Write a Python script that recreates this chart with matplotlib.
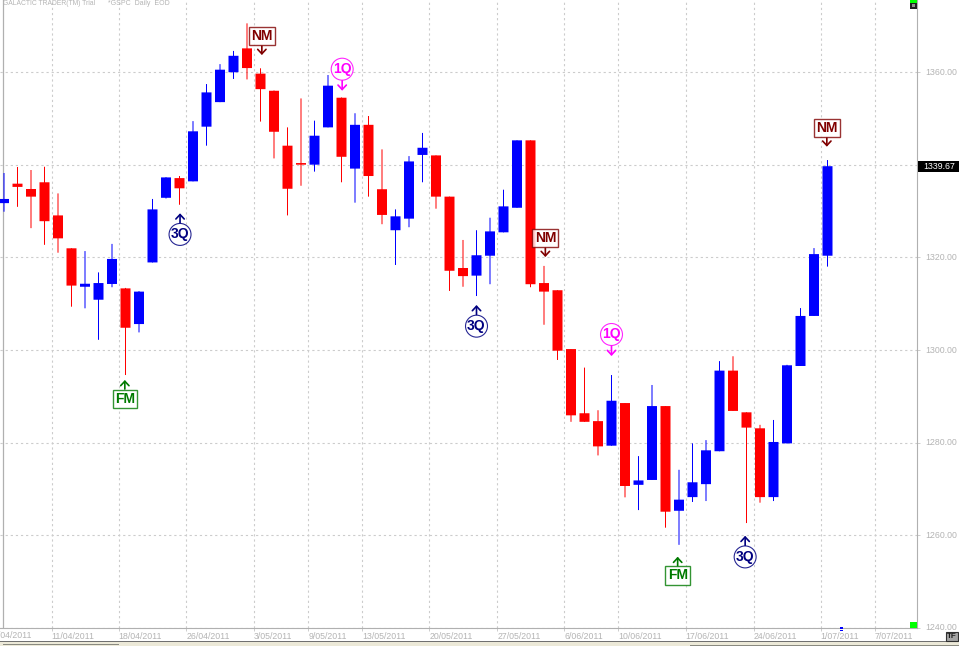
import matplotlib
matplotlib.use('Agg')
import matplotlib.pyplot as plt
from matplotlib.transforms import ScaledTranslation

plt.rcParams['font.family'] = ['Liberation Sans', 'DejaVu Sans']

# daily candles
opens = [1331.7, 1335.9, 1334.75, 1336.2, 1329.05, 1321.95, 1313.65, 1310.85, 1314.25, 1313.3,
         1305.6, 1318.9, 1332.85, 1337.1, 1336.4, 1348.2, 1353.5, 1359.95, 1365.1, 1359.65,
         1355.95, 1344.1, 1340.35, 1340.0, 1348.05, 1354.45, 1339.15, 1348.6, 1334.7, 1325.85,
         1328.35, 1342.1, 1342.0, 1333.1, 1317.7, 1316.05, 1320.35, 1325.4, 1330.7, 1345.25,
         1314.45, 1312.9, 1300.2, 1286.35, 1284.65, 1279.35, 1288.55, 1270.9, 1271.95, 1287.9,
         1265.3, 1268.25, 1271.05, 1278.15, 1295.55, 1286.55, 1283.1, 1268.25, 1279.85, 1296.55,
         1307.35, 1320.35]
highs = [1338.2, 1339.5, 1338.85, 1339.55, 1333.8, 1321.95, 1321.35, 1316.75, 1322.9, 1313.4,
         1312.7, 1332.6, 1337.3, 1337.55, 1349.4, 1357.4, 1361.7, 1364.55, 1370.5, 1360.8,
         1356.0, 1348.05, 1354.3, 1349.5, 1359.35, 1354.5, 1351.1, 1350.5, 1343.3, 1330.35,
         1341.85, 1346.85, 1342.0, 1333.1, 1323.75, 1325.85, 1328.55, 1334.6, 1345.25, 1345.25,
         1318.15, 1312.9, 1300.2, 1296.2, 1287.0, 1294.6, 1288.55, 1277.1, 1292.45, 1287.9,
         1274.15, 1279.85, 1280.55, 1297.6, 1298.65, 1286.55, 1283.85, 1284.9, 1296.8, 1309.05,
         1322.0, 1341.0]
lows = [1329.85, 1330.9, 1326.3, 1322.7, 1321.0, 1309.35, 1309.0, 1302.2, 1313.55, 1294.6,
        1303.8, 1318.9, 1332.7, 1331.35, 1336.4, 1344.1, 1353.5, 1358.5, 1358.4, 1349.3,
        1341.35, 1329.05, 1335.45, 1338.5, 1348.05, 1336.2, 1331.8, 1333.1, 1327.15, 1318.35,
        1326.5, 1336.2, 1330.5, 1312.75, 1313.65, 1311.65, 1314.2, 1325.4, 1330.7, 1313.55,
        1305.45, 1297.85, 1284.5, 1284.5, 1277.25, 1279.35, 1268.2, 1265.45, 1271.95, 1261.65,
        1257.95, 1267.2, 1267.4, 1278.15, 1286.85, 1262.65, 1267.05, 1267.4, 1279.85, 1296.55,
        1307.35, 1318.0]
closes = [1332.6, 1335.2, 1333.1, 1327.8, 1324.1, 1313.9, 1314.3, 1314.45, 1319.65, 1304.8,
          1312.6, 1330.35, 1337.25, 1334.9, 1347.2, 1355.6, 1360.5, 1363.5, 1360.85, 1356.3,
          1347.1, 1334.8, 1340.0, 1346.25, 1357.05, 1341.7, 1348.6, 1337.55, 1329.15, 1328.85,
          1340.7, 1343.65, 1333.1, 1317.1, 1315.95, 1320.45, 1325.6, 1331.0, 1345.25, 1314.2,
          1312.6, 1299.85, 1285.9, 1284.5, 1279.2, 1289.05, 1270.65, 1271.85, 1287.9, 1265.1,
          1267.7, 1271.45, 1278.35, 1295.55, 1286.85, 1283.25, 1268.25, 1280.15, 1296.7, 1307.35,
          1320.7, 1339.67]
last_price = 1339.67

price_ticks = [1240, 1260, 1280, 1300, 1320, 1340, 1360]
# the 1340 label is hidden behind the last price flag
price_labels = ['1240.00', '1260.00', '1280.00', '1300.00', '1320.00', '', '1360.00']
date_ticks = [3.53, 8.5, 13.5, 18.53, 22.53, 26.53, 31.5, 36.53, 41.5, 45.5, 50.5, 55.53, 60.5, 64.5]
date_labels = ['11/04/2011', '18/04/2011', '26/04/2011', '3/05/2011', '9/05/2011', '13/05/2011',
               '20/05/2011', '27/05/2011', '6/06/2011', '10/06/2011', '17/06/2011', '24/06/2011',
               '1/07/2011', '7/07/2011']

sig_labels = ['FM', '3Q', 'NM', '1Q', '3Q', 'NM', '1Q', 'FM', '3Q', 'NM']
sig_index = [8.95, 13.04, 19.1, 25.05, 35.0, 40.1, 45.0, 49.9, 54.9, 60.95]
sig_price = [1293.52, 1329.5, 1363.67, 1355.96, 1309.7, 1320.07, 1298.7, 1255.38, 1259.9, 1343.88]

W, H = 959, 646
GRID = '#cccccc'
TXT = '#b4b4b4'
colors = {'NM': '#800000', 'FM': '#007a00', '3Q': '#000080', '1Q': '#ff00ff'}

fig = plt.figure(figsize=(W / 100, H / 100), dpi=100, facecolor='white')
ax = fig.add_axes([0, (H - 628.3) / H, 917.3 / W, 628.3 / H])

# 13.5 px per bar, first bar centred at x=4
ax.set_xlim(-4 / 13.5, (917.3 - 4) / 13.5)
# 1240 at y=628, 1360 at y=72
ax.set_ylim(1240 - 0.3 / 4.633, 1360 + 72 / 4.633)

for s in ['top', 'left']:
    ax.spines[s].set_visible(False)
ax.spines['right'].set_color('#b0b0b0')
ax.spines['bottom'].set_color('#b0b0b0')
ax.axvline(-1.3 / 13.5, color='#b0b0b0', lw=0.9, zorder=1)

ax.set_xticks(date_ticks)
ax.set_xticklabels(date_labels, ha='left')
ax.set_yticks(price_ticks)
ax.set_yticklabels(price_labels)
ax.yaxis.tick_right()
ax.tick_params(axis='both', length=2, width=0.7, color=GRID, labelsize=6.3, labelcolor=TXT)
ax.tick_params(axis='x', pad=0.5)
ax.tick_params(axis='y', pad=3.5)
ax.grid(True, color=GRID, lw=0.8, linestyle=(0, (2, 2.6)), zorder=0)
ax.set_axisbelow(True)

# price labels sit a pixel above their grid line
for lab in ax.get_yticklabels():
    lab.set_transform(lab.get_transform() + ScaledTranslation(0, 1.0 / 100, fig.dpi_scale_trans))

# first date label is cut by the left side of the window
fig.text(32 / W, 1 - 635 / H, '4/04/2011', fontsize=6.3, color=TXT, ha='right', va='center')

# candles
for i in range(len(opens)):
    col = '#0000ff' if closes[i] > opens[i] else '#ff0000'
    line, = ax.plot([i, i], [lows[i], highs[i]], color=col, lw=0.72, zorder=3,
                    solid_capstyle='butt')
    line.set_snap(False)
    top = max(opens[i], closes[i])
    bot = min(opens[i], closes[i])
    bars = ax.bar(i, top - bot, bottom=bot, width=10 / 13.5, color=col, linewidth=0, zorder=4)
    bars[0].set_snap(False)

# signal markers, label sits above or below the arrow tip
for lab, x, p in zip(sig_labels, sig_index, sig_price):
    c = colors[lab]
    above = lab in ('NM', '1Q')
    if lab in ('1Q', '3Q'):
        dy = 15.5 if above else -15.2
        box = dict(boxstyle='circle,pad=0.12', fc='white', ec=c, lw=0.8, alpha=0.85)
    else:
        dy = 13.5 if above else -13.5
        box = dict(boxstyle='square,pad=0.16', fc='white', ec=c, lw=1.0, alpha=0.8)
    ax.annotate(lab, xy=(x, p), xytext=(0, dy), textcoords='offset points',
                ha='center', va='center', fontsize=10, fontweight='bold', color=c,
                bbox=box, zorder=6,
                arrowprops=dict(arrowstyle='->,head_width=0.3,head_length=0.32', color=c,
                                lw=1.2, shrinkA=0, shrinkB=0))

# header text
ax.text(3 / 917.3, 1 - 3.5 / 628.3, 'GALACTIC TRADER(TM) Trial', transform=ax.transAxes,
        fontsize=4.9, color=TXT, va='center', ha='left')
ax.text(108 / 917.3, 1 - 3.5 / 628.3, '*GSPC  Daily  EOD', transform=ax.transAxes,
        fontsize=5.0, color=TXT, va='center', ha='left')

# window furniture, in pixels of the figure
def px_rect(x0, y0, x1, y1, **kw):
    fig.add_artist(plt.Rectangle((x0 / W, 1 - y1 / H), (x1 - x0) / W, (y1 - y0) / H,
                                 transform=fig.transFigure, **kw))

# last price flag
px_rect(918.3, 161, 959, 172, fc='black', ec='none')
fig.text(939 / W, 1 - 166.7 / H, '%.2f' % last_price, color='white', fontsize=6.3,
         ha='center', va='center')

# green squares
px_rect(910, 0, 917, 3, fc='#00ff00', ec='none')
px_rect(910, 3, 917, 8.5, fc='#202020', ec='none')
px_rect(912, 4.5, 915, 7, fc='#909090', ec='none')
px_rect(910, 622, 917, 628, fc='#00ff00', ec='none')

# small blue tick on the x axis
px_rect(840, 627, 843, 629, fc='#0000ff', ec='none')
px_rect(840, 629.7, 843, 631, fc='#0000ff', ec='none')

# status strip along the bottom
px_rect(0, 641, W, 646, fc='#ece9d8', ec='none')
px_rect(0, 640.6, W, 642, fc='#707070', ec='none')
px_rect(3, 643.8, 119, 644.6, fc='#8a8a80', ec='none')
px_rect(690, 644.8, W, 645.6, fc='#8a8a80', ec='none')
px_rect(946, 631.5, 957.7, 640.5, fc='#a4a4a4', ec='#303030', lw=0.8)
fig.text(951.9 / W, 1 - 636 / H, 'TF', color='#202020', fontsize=5.8, fontweight='bold',
         ha='center', va='center')

fig.savefig('out.png', dpi=100)
